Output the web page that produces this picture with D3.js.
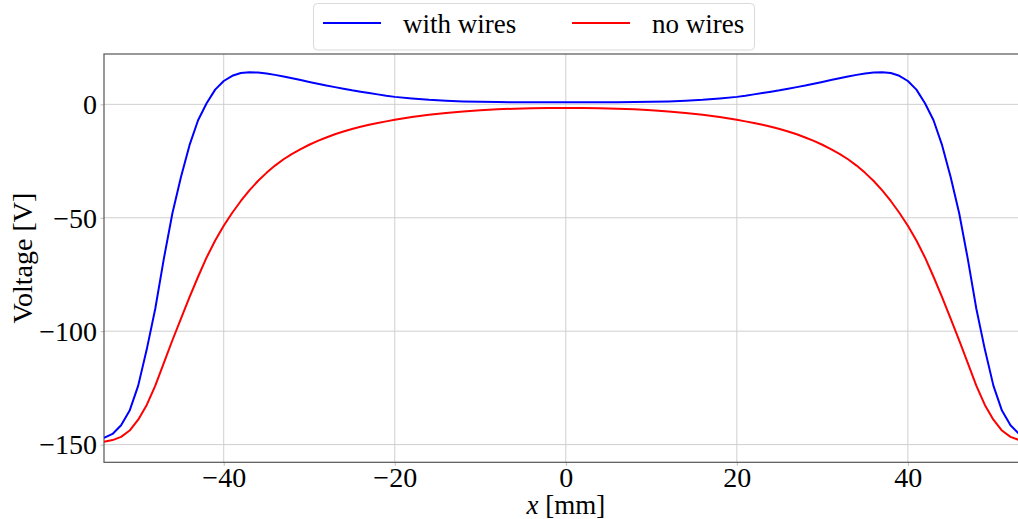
<!DOCTYPE html>
<html>
<head>
<meta charset="utf-8">
<script src="https://cdn.jsdelivr.net/npm/d3@7"></script>
<style>
  html, body { margin: 0; padding: 0; background: #fff; }
  svg { display: block; }
  text { font-family: "Liberation Serif", "DejaVu Serif", serif; fill: #000; }
</style>
</head>
<body>
<svg id="chart" width="1018" height="519"></svg>
<script>
// Position along the detector, mm
const xs = [
  -54, -53, -52, -51, -50, -49, -48, -47, -46, -45, -44, -43, -42, -41, -40, -39, -38,
  -37, -36, -35, -34, -33, -32, -31, -30, -29, -28, -27, -26, -25, -24, -23, -22, -21, -20,
  -18, -16, -14, -12, -10, -8, -6, -4, -2, 0, 2, 4, 6, 8, 10, 12, 14, 16, 18,
  20, 21, 22, 23, 24, 25, 26, 27, 28, 29, 30, 31, 32, 33, 34, 35, 36, 37,
  38, 39, 40, 41, 42, 43, 44, 45, 46, 47, 48, 49, 50, 51, 52, 53, 54
];

// Voltage with the field wires in place, V
const withWires = [
  -147.0, -145.3, -141.5, -135.0, -124.0, -108.0, -90.0, -68.0, -48.0, -32.0, -18.0, -7.0,
  0.5, 6.5, 10.3, 12.6, 13.8, 14.2, 14.0, 13.6, 13.0, 12.3, 11.5, 10.7, 9.9, 9.1, 8.3,
  7.6, 6.9, 6.2, 5.6, 5.0, 4.4, 3.8, 3.3,
  2.6, 2.0, 1.6, 1.3, 1.1, 1.0, 0.95, 0.9, 0.9, 0.9, 0.9, 0.9, 0.95, 1.0, 1.1, 1.3, 1.6, 2.0, 2.6,
  3.3, 3.8, 4.4, 5.0, 5.6, 6.2, 6.9, 7.6, 8.3, 9.1, 9.9, 10.7, 11.5, 12.3, 13.0, 13.6,
  14.0, 14.2, 13.8, 12.6, 10.3, 6.5, 0.5, -7.0, -18.0, -32.0, -48.0, -68.0, -90.0,
  -108.0, -124.0, -135.0, -141.5, -145.3, -147.0
];

// Voltage without the wires, V
const noWires = [
  -148.8, -148.0, -146.6, -143.8, -139.0, -132.5, -124.0, -114.0, -104.0, -94.5, -85.0,
  -76.0, -67.5, -60.0, -53.5, -47.8, -42.6, -37.9, -33.8, -30.2, -27.0, -24.2, -21.8,
  -19.7, -17.8, -16.1, -14.6, -13.2, -12.0, -10.9, -9.9, -9.0, -8.2, -7.5, -6.8,
  -5.6, -4.6, -3.8, -3.1, -2.6, -2.2, -1.9, -1.7, -1.6, -1.6, -1.6, -1.7, -1.9, -2.2,
  -2.6, -3.1, -3.8, -4.6, -5.6,
  -6.8, -7.5, -8.2, -9.0, -9.9, -10.9, -12.0, -13.2, -14.6, -16.1, -17.8, -19.7, -21.8,
  -24.2, -27.0, -30.2, -33.8, -37.9, -42.6, -47.8, -53.5, -60.0, -67.5, -76.0, -85.0,
  -94.5, -104.0, -114.0, -124.0, -132.5, -139.0, -143.8, -146.6, -148.0, -148.8
];

const seriesNames = ["with wires", "no wires"];
const seriesColors = ["#0000ff", "#ff0000"];
const xTicks = [-40, -20, 0, 20, 40];
const yTicks = [-150, -100, -50, 0];

(function draw() {
  const svg = d3.select("#chart");
  const pL = 104, pR = 1027.6, pT = 54, pB = 462.3;

  const x = d3.scaleLinear().domain([-54, 54]).range([pL, pR]);
  const y = d3.scaleLinear().domain([-157.8, 22.2]).range([pB, pT]);
  const fmt = d3.format("");

  // grid
  const grid = svg.append("g").attr("stroke", "#cfcfcf").attr("stroke-width", 1);
  grid.selectAll("line.gx").data(xTicks).join("line").attr("class", "gx")
    .attr("x1", d => x(d)).attr("x2", d => x(d))
    .attr("y1", pT).attr("y2", pB);
  grid.selectAll("line.gy").data(yTicks).join("line").attr("class", "gy")
    .attr("x1", pL).attr("x2", pR)
    .attr("y1", d => y(d)).attr("y2", d => y(d));

  // axes
  const xAxis = svg.append("g").attr("transform", `translate(0,${pB})`)
    .call(d3.axisBottom(x).tickValues(xTicks).tickFormat(fmt).tickSize(3.5).tickPadding(2));
  const yAxis = svg.append("g").attr("transform", `translate(${pL},0)`)
    .call(d3.axisLeft(y).tickValues(yTicks).tickFormat(fmt).tickSize(3.5).tickPadding(3.5));
  [xAxis, yAxis].forEach(a => {
    a.select(".domain").remove();
    a.selectAll(".tick line").attr("stroke", "#bdbdbd");
    a.selectAll(".tick text")
      .style("font-family", '"Liberation Serif", serif')
      .style("font-size", "28px").attr("fill", "#000");
  });
  yAxis.selectAll(".tick text").attr("dy", "0.33em");
  xAxis.selectAll(".tick text").attr("dy", "0.7em");

  // frame
  svg.append("rect")
    .attr("x", pL).attr("y", pT)
    .attr("width", pR - pL).attr("height", pB - pT)
    .attr("fill", "none").attr("stroke", "#555").attr("stroke-width", 1.2);

  // curves
  svg.append("clipPath").attr("id", "plotclip").append("rect")
    .attr("x", pL).attr("y", pT).attr("width", pR - pL).attr("height", pB - pT);

  const line = d3.line().x((d, i) => x(xs[i])).y(d => y(d));
  const plot = svg.append("g").attr("clip-path", "url(#plotclip)");
  [withWires, noWires].forEach((vals, k) => {
    plot.append("path").datum(vals)
      .attr("d", line)
      .attr("fill", "none")
      .attr("stroke", seriesColors[k])
      .attr("stroke-width", 2)
      .attr("stroke-linejoin", "round");
  });

  // axis titles
  svg.append("text")
    .attr("x", x(0)).attr("y", 513.5)
    .attr("text-anchor", "middle")
    .style("font-size", "27px")
    .html('<tspan font-style="italic">x</tspan> [mm]');

  svg.append("text")
    .attr("transform", `translate(32,${(pT + pB) / 2}) rotate(-90)`)
    .attr("text-anchor", "middle")
    .style("font-size", "28px")
    .text("Voltage [V]");

  // legend
  const lg = svg.append("g");
  lg.append("rect")
    .attr("x", 313.5).attr("y", 3.5).attr("width", 441).attr("height", 46.5)
    .attr("rx", 4).attr("fill", "#fff").attr("fill-opacity", 0.8)
    .attr("stroke", "#d9d9d9").attr("stroke-width", 1);
  const legendX = [323, 572];
  seriesNames.forEach((name, k) => {
    lg.append("line")
      .attr("x1", legendX[k]).attr("x2", legendX[k] + 58)
      .attr("y1", 23).attr("y2", 23)
      .attr("stroke", seriesColors[k]).attr("stroke-width", 2);
    lg.append("text")
      .attr("x", legendX[k] + 80).attr("y", 33)
      .style("font-size", "27px")
      .text(name);
  });
})();
</script>
</body>
</html>
